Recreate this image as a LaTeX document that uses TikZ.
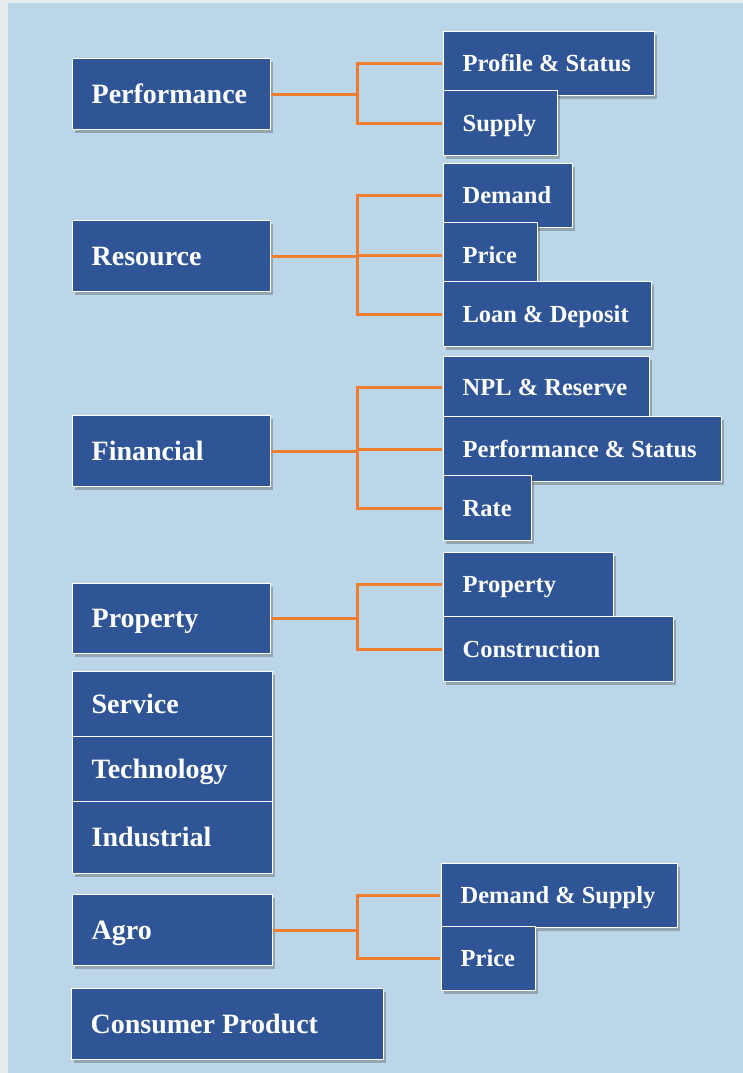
\documentclass[tikz,border=0pt]{standalone}
\usepackage{fontspec}
\setmainfont{Liberation Serif}
\usetikzlibrary{shadows}
\definecolor{pagegrey}{RGB}{232,236,239}
\definecolor{panelblue}{RGB}{187,214,233}
\definecolor{boxblue}{RGB}{47,85,151}
\definecolor{linkorange}{RGB}{237,125,49}
% label set flush left in a box of fixed width
\newcommand{\lbl}[2]{\makebox[#1pt][l]{#2}}

\tikzset{
  topic/.style={draw=white, line width=1.3pt, fill=boxblue, text=white,
    anchor=north west, inner xsep=19pt, inner ysep=0pt, text depth=0pt,
    drop shadow={shadow xshift=2pt, shadow yshift=-3pt, opacity=0.35, fill=black!70}},
  sector/.style={topic, font=\fontsize{28}{30}\selectfont\bfseries, text height=18.5pt, minimum height=71pt},
  item/.style={topic, font=\fontsize{24.5}{26}\selectfont\bfseries, text height=16.2pt, minimum height=64pt},
  link/.style={draw=linkorange, line width=3pt, shorten >=0.7pt}
}

\begin{document}
\begin{tikzpicture}[x=1pt, y=-1pt]
  %%%%% backdrop
  \useasboundingbox (0,0) rectangle (743,1073);
  \fill[pagegrey] (0,0) rectangle (743,1073);
  \fill[panelblue] (8,3) rectangle (743,1073);
  \coordinate (trunk) at (357,0);

  %%%%% Performance
  \node[sector] (perf) at (72,58) {\lbl{160}{Performance}};
  \node[item] (profile) at (443,31) {\lbl{173}{Profile \& Status}};
  \node[item, minimum height=65pt] (supply) at (443,90) {\lbl{76}{Supply}};
  \foreach \kid in {profile,supply}
    \draw[link] (perf.east) -- (trunk |- perf.east) |- (\kid.west);

  %%%%% Resource
  \node[sector] (resource) at (72,220) {\lbl{160}{Resource}};
  \node[item] (demand) at (443,163) {\lbl{91}{Demand}};
  \node[item, minimum height=65pt] (price) at (443,222) {\lbl{56}{Price}};
  \node[item, minimum height=65pt] (loan) at (443,281) {\lbl{170}{Loan \& Deposit}};
  \foreach \kid in {demand,price,loan}
    \draw[link] (resource.east) -- (trunk |- resource.east) |- (\kid.west);

  %%%%% Financial
  \node[sector] (financial) at (72,415) {\lbl{160}{Financial}};
  \node[item, minimum height=62pt] (npl) at (443,356) {\lbl{168}{NPL \& Reserve}};
  \node[item, minimum height=65pt] (perfstatus) at (443,416) {\lbl{240}{Performance \& Status}};
  \node[item, minimum height=65pt] (rate) at (443,475) {\lbl{50}{Rate}};
  \foreach \kid in {npl,perfstatus,rate}
    \draw[link] (financial.east) -- (trunk |- financial.east) |- (\kid.west);

  %%%%% Property
  \node[sector, minimum height=70pt] (property) at (72,583) {\lbl{160}{Property}};
  \node[item] (propkid) at (443,552) {\lbl{132}{Property}};
  \node[item, minimum height=65pt] (construction) at (443,616) {\lbl{192}{Construction}};
  \foreach \kid in {propkid,construction}
    \draw[link] (property.east) -- (trunk |- property.east) |- (\kid.west);

  %%%%% no breakdown
  \node[sector, minimum height=65pt] (service) at (72,671) {\lbl{162}{Service}};
  \node[sector, minimum height=65pt] (technology) at (72,736) {\lbl{162}{Technology}};
  \node[sector, minimum height=72pt] (industrial) at (72,801) {\lbl{162}{Industrial}};

  %%%%% Agro
  \node[sector] (agro) at (72,894) {\lbl{162}{Agro}};
  \node[item] (agdemand) at (441,863) {\lbl{198}{Demand \& Supply}};
  \node[item] (agprice) at (441,926) {\lbl{56}{Price}};
  \foreach \kid in {agdemand,agprice}
    \draw[link] (agro.east) -- (trunk |- agro.east) |- (\kid.west);

  %%%%% Consumer Product
  \node[sector] (consumer) at (71,988) {\lbl{274}{Consumer Product}};
\end{tikzpicture}
\end{document}
